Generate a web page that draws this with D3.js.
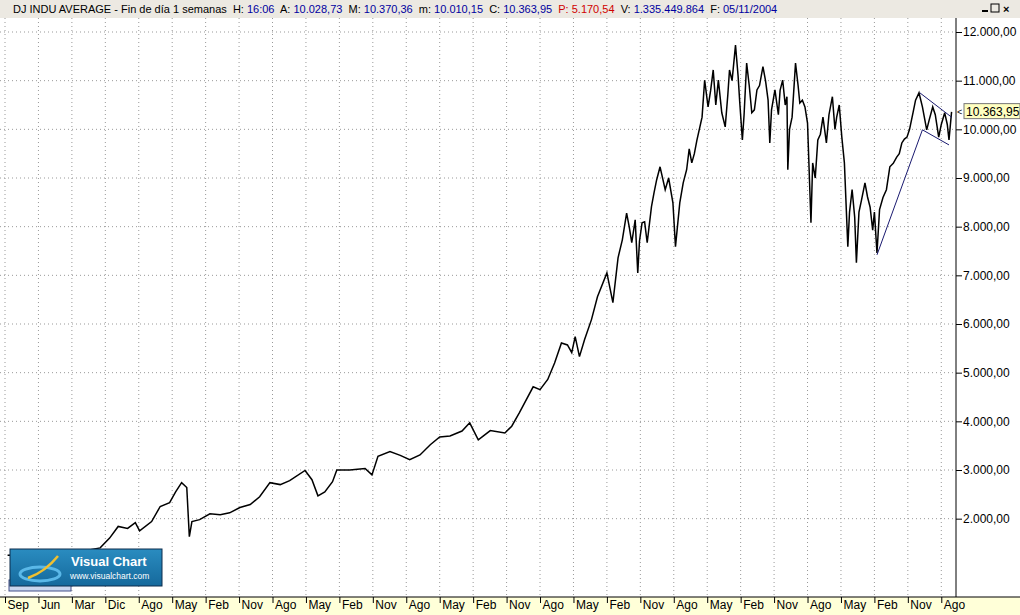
<!DOCTYPE html>
<html>
<head>
<meta charset="utf-8">
<script src="https://cdn.jsdelivr.net/npm/d3@7"></script>
<style>
  body { margin: 0; background: #fff; }
  text { font-family: "Liberation Sans", Arial, sans-serif; }
</style>
</head>
<body>
<svg id="chart" width="1020" height="615"></svg>
<script>
// weekly closes, week index counted from Sep 1983
const weeks = [3,29,64,87,111,122,132,143,152,157,171,181,192,199,206,212,215,218,227,239,251,262,274,286,297,309,321,332,350,358,365,373,382,387,402,420,428,435,449,461,472,484,496,507,519,533,542,552,566,583,591,600,616,624,633,641,649,656,661,665,670,676,684,691,
  702,709,715,720,725,728,731,735,738,740,743,746,749,754,757,760,764,770,774,779,782,787,791,795,798,801,804,807,813,816,820,823,826,829,832,836,840,843,845,848,852,855,857,860,862,865,868,871,874,877,880,884,887,890,892,894,898,902,904,907,910,912,913,915,918,922,925,927,930,933,936,940,942,945,948,951,954,958,961,965,968,970,973,976,979,983,985,988,991,993,996,999,1003,1006,1009,1012,1014,1017,1020,1024,1028,1032,1036,1040,1043,1046,1049,1052,1055,1059,1062,1066,1070,1075,1078,1082,1085,1089,1092,1096,1099,1101,1104];
const closes = [1250,1260,1280,1320,1400,1600,1840,1800,1920,1750,1940,2250,2330,2550,2740,2640,1630,1940,1980,2100,2080,2120,2230,2290,2450,2740,2700,2780,2990,2800,2470,2550,2760,3000,3000,3030,2900,3280,3380,3300,3210,3310,3520,3680,3700,3800,3970,3620,3810,3760,3900,4180,4710,4650,4860,5200,5610,5570,5410,5740,5330,5680,6090,6560,
  7050,6440,7360,7730,8280,8000,7670,8140,7050,7700,8080,8100,7670,8410,8700,8960,9230,8760,9000,8490,7590,8490,8900,9170,9600,9310,9500,9780,10250,11010,10460,10800,11220,10500,11010,10340,10050,10700,11220,11000,11730,11100,10540,9780,10300,11360,10900,10340,10400,10810,10900,11290,11000,10600,9720,10400,10810,10300,10800,11010,10500,10670,9170,10000,10250,11360,10900,10540,10600,10460,10130,8080,9310,9000,9780,9900,10250,9720,10300,10670,10000,10250,10500,9840,9310,7590,8300,8760,8200,7260,8300,8550,8900,8610,8400,7930,8300,7460,8350,8600,8760,9230,9300,9430,9500,9720,9800,9840,10000,10340,10600,10750,10460,9990,10200,10460,10300,9840,10100,10340,10100,9780,10360];

// drawn trend lines: [week, value] pairs
const trendLines = [
  [[1017, 7420], [1070, 9990]],
  [[1067, 10750], [1104, 10250]],
  [[1070, 9990], [1101, 9680]]
];

const tickLabels = ["Sep","Jun","Mar","Dic","Ago","May","Feb","Nov","Ago","May","Feb","Nov","Ago","May","Feb","Nov","Ago","May","Feb","Nov","Ago","May","Feb","Nov","Ago","May","Feb","Nov","Ago"];
const tickWeeks = tickLabels.map((d, i) => i * 39);
const priceTicks = [2000,3000,4000,5000,6000,7000,8000,9000,10000,11000,12000];
const lastPrice = 10363.95;

const svg = d3.select("#chart");
const fmt = v => d3.format(",.2f")(v).replace(/,/g, "#").replace(/\./g, ",").replace(/#/g, ".");

const x = d3.scaleLinear().domain([0, 1108]).range([5, 955]);
const y = d3.scaleLinear().domain([0, 12000]).range([616, 32]);

// title bar
svg.append("rect").attr("x", 0).attr("y", 0).attr("width", 1020).attr("height", 18).attr("fill", "#ece9e2");
const head = svg.append("text").attr("x", 13).attr("y", 13).attr("font-size", 11);
const parts = [
  ["DJ INDU AVERAGE - Fin de día 1 semanas  H: ", "#000"], ["16:06", "#0000a0"],
  ["  A: ", "#000"], ["10.028,73", "#0000a0"], ["  M: ", "#000"], ["10.370,36", "#0000a0"],
  ["  m: ", "#000"], ["10.010,15", "#0000a0"], ["  C: ", "#000"], ["10.363,95", "#0000a0"],
  ["  P: ", "#d00000"], ["5.170,54", "#d00000"], ["  V: ", "#000"], ["1.335.449.864", "#0000a0"],
  ["  F: ", "#000"], ["05/11/2004", "#0000a0"]
];
parts.forEach(p => head.append("tspan").attr("fill", p[1]).attr("xml:space", "preserve").text(p[0]));
// window buttons
svg.append("line").attr("x1", 982).attr("x2", 988).attr("y1", 11).attr("y2", 11).attr("stroke", "#000").attr("stroke-width", 2);
svg.append("rect").attr("x", 991).attr("y", 4).attr("width", 8).attr("height", 8).attr("fill", "none").attr("stroke", "#000");
svg.append("text").attr("x", 1003).attr("y", 13).attr("font-size", 11).attr("font-weight", "bold").text("×");

// grid
const grid = svg.append("g").attr("stroke", "#999").attr("stroke-dasharray", "1,3");
grid.selectAll(".h").data(priceTicks).join("line")
  .attr("x1", 0).attr("x2", 956).attr("y1", d => y(d)).attr("y2", d => y(d));
grid.selectAll(".v").data(tickWeeks).join("line")
  .attr("x1", d => x(d)).attr("x2", d => x(d)).attr("y1", 18).attr("y2", 597);

// price line
const pts = weeks.map((w, i) => [w, closes[i]]);
svg.append("path").datum(pts)
  .attr("fill", "none").attr("stroke", "#000").attr("stroke-width", 1.5)
  .attr("d", d3.line().x(d => x(d[0])).y(d => y(d[1])));

svg.selectAll(".trend").data(trendLines).join("line")
  .attr("x1", d => x(d[0][0])).attr("y1", d => y(d[0][1]))
  .attr("x2", d => x(d[1][0])).attr("y2", d => y(d[1][1]))
  .attr("stroke", "#1a1a70").attr("stroke-width", 1);

// right axis
svg.append("rect").attr("x", 956).attr("y", 18).attr("width", 64).attr("height", 579).attr("fill", "#fff");
svg.append("line").attr("x1", 956).attr("x2", 956).attr("y1", 18).attr("y2", 597).attr("stroke", "#000");
const ra = svg.append("g").attr("transform", "translate(956,0)")
  .call(d3.axisRight(y).tickValues(priceTicks).tickSize(6).tickFormat(fmt));
ra.select(".domain").remove();
ra.selectAll("text").attr("font-size", 12).attr("font-family", "Liberation Sans, Arial").attr("x", 7).attr("fill", "#000");

// last price tag
const ly = y(lastPrice);
svg.append("rect").attr("x", 964).attr("y", ly - 8).attr("width", 56).attr("height", 15)
  .attr("fill", "#ffffc0").attr("stroke", "#777");
svg.append("text").attr("x", 966).attr("y", ly + 4).attr("font-size", 12).text(fmt(lastPrice));
svg.append("text").attr("x", 957).attr("y", ly + 3).attr("font-size", 9).text("<");

// bottom axis
svg.append("rect").attr("x", 0).attr("y", 597).attr("width", 1020).attr("height", 18).attr("fill", "#ffffd8");
svg.append("line").attr("x1", 0).attr("x2", 1020).attr("y1", 597).attr("y2", 597).attr("stroke", "#000");
const ba = svg.append("g").attr("transform", "translate(0,597)")
  .call(d3.axisBottom(x).tickValues(tickWeeks).tickSize(6).tickFormat((d, i) => tickLabels[i]));
ba.select(".domain").remove();
ba.selectAll("text").attr("font-size", 12).attr("font-family", "Liberation Sans, Arial")
  .attr("text-anchor", "start").attr("x", 2).attr("y", 3).attr("fill", "#000");

// logo
const grad = svg.append("defs").append("linearGradient").attr("id", "lg").attr("x1", 0).attr("x2", 0).attr("y1", 0).attr("y2", 1);
grad.append("stop").attr("offset", 0).attr("stop-color", "#2a8cc0");
grad.append("stop").attr("offset", 1).attr("stop-color", "#15699c");
svg.append("rect").attr("x", 9).attr("y", 580).attr("width", 62).attr("height", 11).attr("fill", "#c9d6ee").attr("stroke", "#44508a");
svg.append("rect").attr("x", 10).attr("y", 549).attr("width", 152).attr("height", 37).attr("fill", "url(#lg)").attr("stroke", "#0c2c4c");
svg.append("ellipse").attr("cx", 40).attr("cy", 574).attr("rx", 20).attr("ry", 7).attr("fill", "none").attr("stroke", "#5ab8e8").attr("stroke-width", 3);
svg.append("path").attr("d", "M28,578 Q45,572 58,556").attr("fill", "none").attr("stroke", "#f0c030").attr("stroke-width", 2.5);
svg.append("text").attr("x", 71).attr("y", 566).attr("font-size", 13).attr("font-weight", "bold").attr("fill", "#fff").text("Visual Chart");
svg.append("text").attr("x", 70).attr("y", 579).attr("font-size", 8.5).attr("fill", "#fff").text("www.visualchart.com");
</script>
</body>
</html>
